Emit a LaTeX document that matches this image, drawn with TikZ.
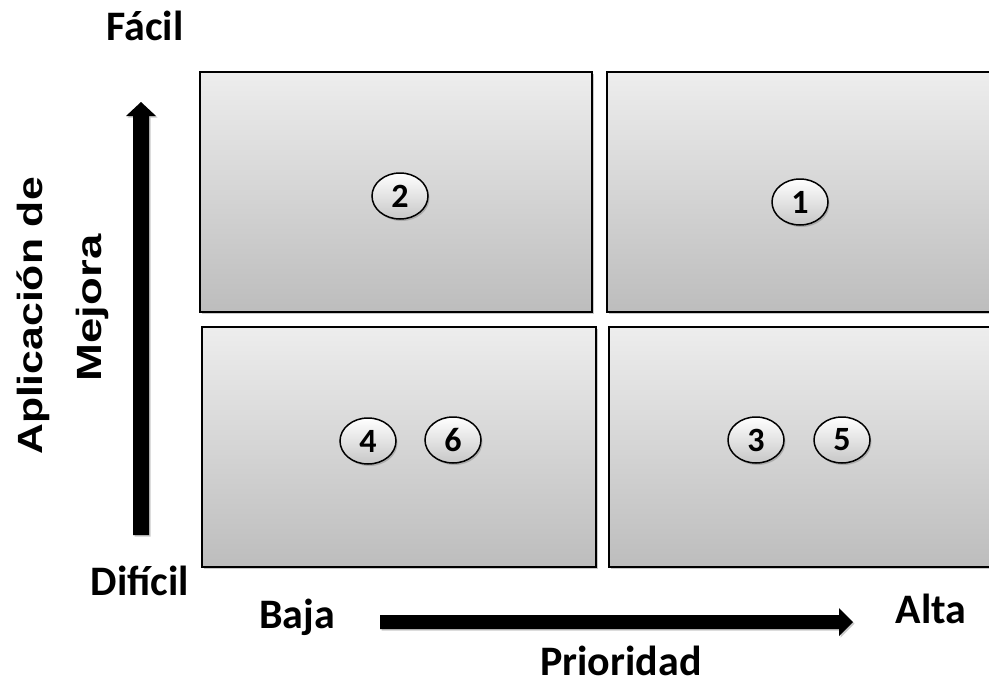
\documentclass[tikz,border=0pt]{standalone}
\usepackage{fontspec}
\setmainfont{Carlito}
\newfontfamily\arialfont{Liberation Sans}
\usetikzlibrary{shapes.geometric,shadows}
\begin{document}
\begin{tikzpicture}[x=1pt,y=-1pt,
  quad/.style={draw=black,line width=1.8pt,rectangle,inner sep=0pt,
    top color=black!7,bottom color=black!26,
    drop shadow={shadow xshift=2pt,shadow yshift=-2pt,opacity=0.35,fill=black!60}},
  bubble/.style={draw=black,line width=1.5pt,ellipse,inner sep=0pt,
    minimum width=56pt,minimum height=46pt,
    top color=white,bottom color=black!22,
    drop shadow={shadow xshift=1.5pt,shadow yshift=-2pt,opacity=0.35,fill=black!60},
    font=\fontsize{34}{38}\selectfont\bfseries},
  lbl/.style={anchor=base,inner sep=0pt,font=\fontsize{42}{48}\selectfont\bfseries},
  rlbl/.style={anchor=south,inner sep=0pt,rotate=90,font=\arialfont\fontsize{35}{40}\selectfont\bfseries},
  blockarrow/.style={fill=black,draw=none,
    drop shadow={shadow xshift=1.5pt,shadow yshift=-1.5pt,opacity=0.35,fill=black!60}}
]
\useasboundingbox (0,0) rectangle (989,683);
\clip (0,0) rectangle (989,683);
\fill[white] (0,0) rectangle (989,683);

% quadrants
\node[quad,minimum width=392pt,minimum height=240pt] (tl) at (396,192) {};
\node[quad,minimum width=400pt,minimum height=240pt] (tr) at (807,192) {};
\node[quad,minimum width=394pt,minimum height=240pt] (bl) at (399,447) {};
\node[quad,minimum width=400pt,minimum height=240pt] (br) at (809,447) {};

% bubbles
\node[bubble] (n2) at (400,196) {2};
\node[bubble] (n1) at (800,202) {1};
\node[bubble] (n4) at (368,441) {4};
\node[bubble] (n6) at (453,440) {6};
\node[bubble] (n3) at (756,440) {3};
\node[bubble] (n5) at (842,440) {5};

% vertical arrow
\coordinate (va) at (141,535);
\coordinate (vt) at (141,102);
\fill[blockarrow] ([xshift=-8pt]va) -- ([xshift=-8pt]va |- 0,116) -- ([xshift=-15pt]va |- 0,116)
  -- (vt) -- ([xshift=15pt]va |- 0,116) -- ([xshift=8pt]va |- 0,116) -- ([xshift=8pt]va) -- cycle;

% horizontal arrow
\coordinate (ha) at (380,622);
\coordinate (ht) at (853,622);
\fill[blockarrow] ([yshift=7pt]ha) -- ([yshift=7pt]ha -| 839,0) -- ([yshift=14pt]ha -| 839,0)
  -- (ht) -- ([yshift=-14pt]ha -| 839,0) -- ([yshift=-7pt]ha -| 839,0) -- ([yshift=-7pt]ha) -- cycle;

% labels
\node[lbl] (facil) at (145,40) {Fácil};
\node[lbl] (dificil) at (140,595) {Difícil};
\node[lbl] (baja) at (297,628) {Baja};
\node[lbl] (alta) at (931,623) {Alta};
\node[lbl,text depth=0pt] (prio) at (621,675) {Prioridad};

\node[rlbl] (apl) at (50,316) {\scalebox{1.22}[1]{Aplicación de}};
\node[rlbl] (mej) at (109,308) {\scalebox{1.3}[1]{Mejora}};
\end{tikzpicture}
\end{document}
